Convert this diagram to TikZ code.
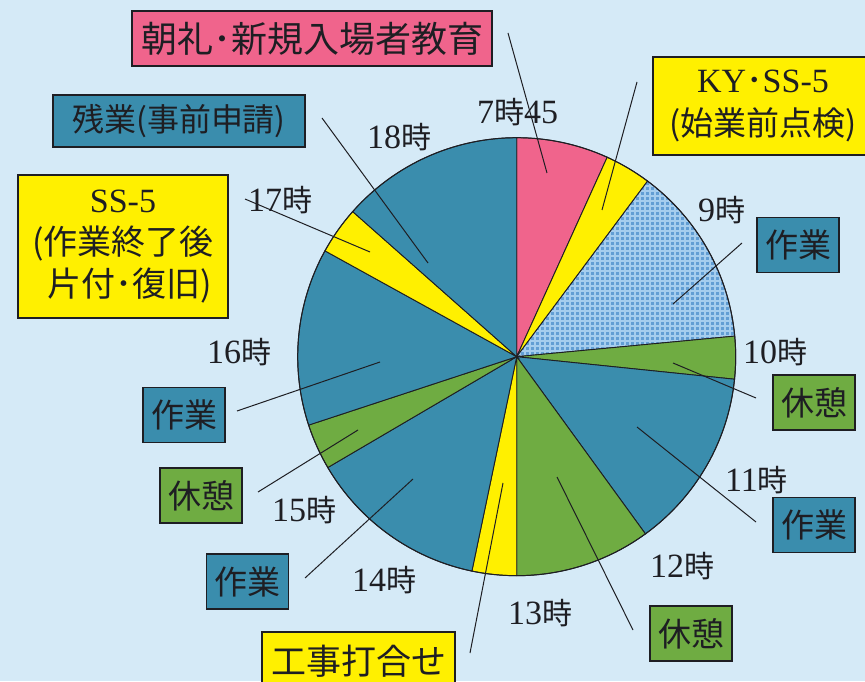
\documentclass[tikz,border=0pt]{standalone}
\usepackage{fontspec}
\setmainfont{Liberation Serif}
\newfontfamily\cjk{Noto Sans CJK JP}
\definecolor{bgblue}{RGB}{213,234,247}
\definecolor{pinkc}{RGB}{240,100,140}
\definecolor{yellowc}{RGB}{255,240,0}
\definecolor{tealc}{RGB}{58,141,173}
\definecolor{greenc}{RGB}{111,172,66}
\definecolor{checkbase}{RGB}{98,158,212}
\definecolor{checkline}{RGB}{165,205,238}
\definecolor{inkc}{RGB}{30,30,35}
\newcommand\hourlbl[1]{{\fontsize{34}{34}\selectfont #1}{\cjk\fontsize{30}{30}\selectfont 時}}
\newcommand\pieslice[3]{\filldraw[fill=#3,draw=inkc,line width=0.9pt] (C) -- ++(#1:219pt) arc[start angle=#1,end angle=#2,radius=219pt] -- cycle;}
\tikzset{
  lbox/.style={draw=inkc,line width=1.5pt,inner sep=0pt,align=center,text=inkc,font=\cjk\fontsize{33}{40}\selectfont},
  smallbox/.style={lbox,minimum width=82pt,minimum height=55pt},
  hour/.style={anchor=west,inner sep=0pt,text=inkc},
  leader/.style={draw=inkc,line width=1pt}
}
\begin{document}
\begin{tikzpicture}[x=1pt,y=1pt]
\useasboundingbox (0,0) rectangle (865,681);
\clip (0,0) rectangle (865,681);
\fill[bgblue] (0,0) rectangle (865,681);
\coordinate (C) at (516.7,324.3);
% pie
\pieslice{65.6}{90}{pinkc}
\pieslice{53.3}{65.6}{yellowc}
\begin{scope}
  \clip (C) -- ++(5.4:219pt) arc[start angle=5.4,end angle=53.3,radius=219pt] -- cycle;
  \fill[checkbase] (510,320) rectangle (740,560);
  \draw[checkline,line width=1.3pt,step=5pt] (510,320) grid (740,560);
\end{scope}
\draw[inkc,line width=0.9pt] (C) -- ++(5.4:219pt) arc[start angle=5.4,end angle=53.3,radius=219pt] -- cycle;
\pieslice{-5.9}{5.4}{greenc}
\pieslice{-54}{-5.9}{tealc}
\pieslice{-90}{-54}{greenc}
\pieslice{-101.8}{-90}{yellowc}
\pieslice{-149.6}{-101.8}{tealc}
\pieslice{-161.8}{-149.6}{greenc}
\pieslice{151.1}{198.2}{tealc}
\pieslice{138.5}{151.1}{yellowc}
\pieslice{90}{138.5}{tealc}
\draw[inkc,line width=1pt] (C) circle[radius=219pt];
% boxes
\node[lbox,fill=pinkc,minimum width=360pt,minimum height=55pt,font=\cjk\fontsize{36}{40}\selectfont] (bChorei) at (312,642.5) {朝礼･新規入場者教育};
\node[lbox,fill=tealc,minimum width=252pt,minimum height=52pt,font=\cjk\fontsize{32}{36}\selectfont] (bZangyo) at (179,560) {残業(事前申請)};
\node[lbox,fill=yellowc,minimum width=210pt,minimum height=143pt,font=\cjk\fontsize{34}{42}\selectfont] (bSS) at (123,434.5) {{\rmfamily\fontsize{34}{42}\selectfont SS-5}\\(作業終了後\\\hspace*{14pt}片付･復旧)};
\node[lbox,fill=yellowc,minimum width=220pt,minimum height=98pt,font=\cjk\fontsize{33}{43}\selectfont] (bKY) at (763,575) {{\rmfamily\fontsize{34}{43}\selectfont KY}･{\rmfamily\fontsize{34}{43}\selectfont SS-5}\\(始業前点検)};
\node[smallbox,fill=tealc] (bW9) at (798,436) {作業};
\node[smallbox,fill=greenc] (bR10) at (814,278.5) {休憩};
\node[smallbox,fill=tealc] (bW11) at (814,156) {作業};
\node[smallbox,fill=greenc] (bR12) at (691,47.5) {休憩};
\node[smallbox,fill=tealc] (bW16) at (184,266) {作業};
\node[smallbox,fill=greenc] (bR15) at (201,185.5) {休憩};
\node[smallbox,fill=tealc] (bW14) at (247.5,99.5) {作業};
\node[lbox,fill=yellowc,minimum width=193pt,minimum height=58pt,font=\cjk\fontsize{35}{40}\selectfont] (bKoji) at (358.5,20) {工事打合せ};
% hour labels
\node[hour] (h745) at (477,569) {{\fontsize{34}{34}\selectfont 7}{\cjk\fontsize{30}{30}\selectfont 時}{\fontsize{34}{34}\selectfont 45}};
\node[hour] (h18) at (367,544) {\hourlbl{18}};
\node[hour] (h17) at (248,481) {\hourlbl{17}};
\node[hour] (h9) at (698,471) {\hourlbl{9}};
\node[hour] (h10) at (743,329) {\hourlbl{10}};
\node[hour] (h11) at (725,201) {\hourlbl{11}};
\node[hour] (h12) at (650,115) {\hourlbl{12}};
\node[hour] (h13) at (508,68) {\hourlbl{13}};
\node[hour] (h14) at (352,101) {\hourlbl{14}};
\node[hour] (h15) at (272,171) {\hourlbl{15}};
\node[hour] (h16) at (207,329) {\hourlbl{16}};
% leader lines
\coordinate (pA) at (508,648); \coordinate (pB) at (547,508);
\coordinate (kA) at (637,599); \coordinate (kB) at (602,471);
\coordinate (w9A) at (742,438); \coordinate (w9B) at (673,377);
\coordinate (r10A) at (756,283); \coordinate (r10B) at (673,318);
\coordinate (w11A) at (756,159); \coordinate (w11B) at (637,254);
\coordinate (r12A) at (633,51); \coordinate (r12B) at (557,204);
\coordinate (kjA) at (470,28); \coordinate (kjB) at (503,198);
\coordinate (w14A) at (305,103); \coordinate (w14B) at (413,202);
\coordinate (r15A) at (258,189); \coordinate (r15B) at (358,251);
\coordinate (w16A) at (237,270); \coordinate (w16B) at (380,319);
\coordinate (ssA) at (245,482); \coordinate (ssB) at (370,429);
\coordinate (zA) at (322,563); \coordinate (zB) at (428,418);
\foreach \a/\b in {pA/pB,kA/kB,w9A/w9B,r10A/r10B,w11A/w11B,r12A/r12B,kjA/kjB,w14A/w14B,r15A/r15B,w16A/w16B,ssA/ssB,zA/zB}
  \draw[leader] (\a) -- (\b);
\end{tikzpicture}
\end{document}
